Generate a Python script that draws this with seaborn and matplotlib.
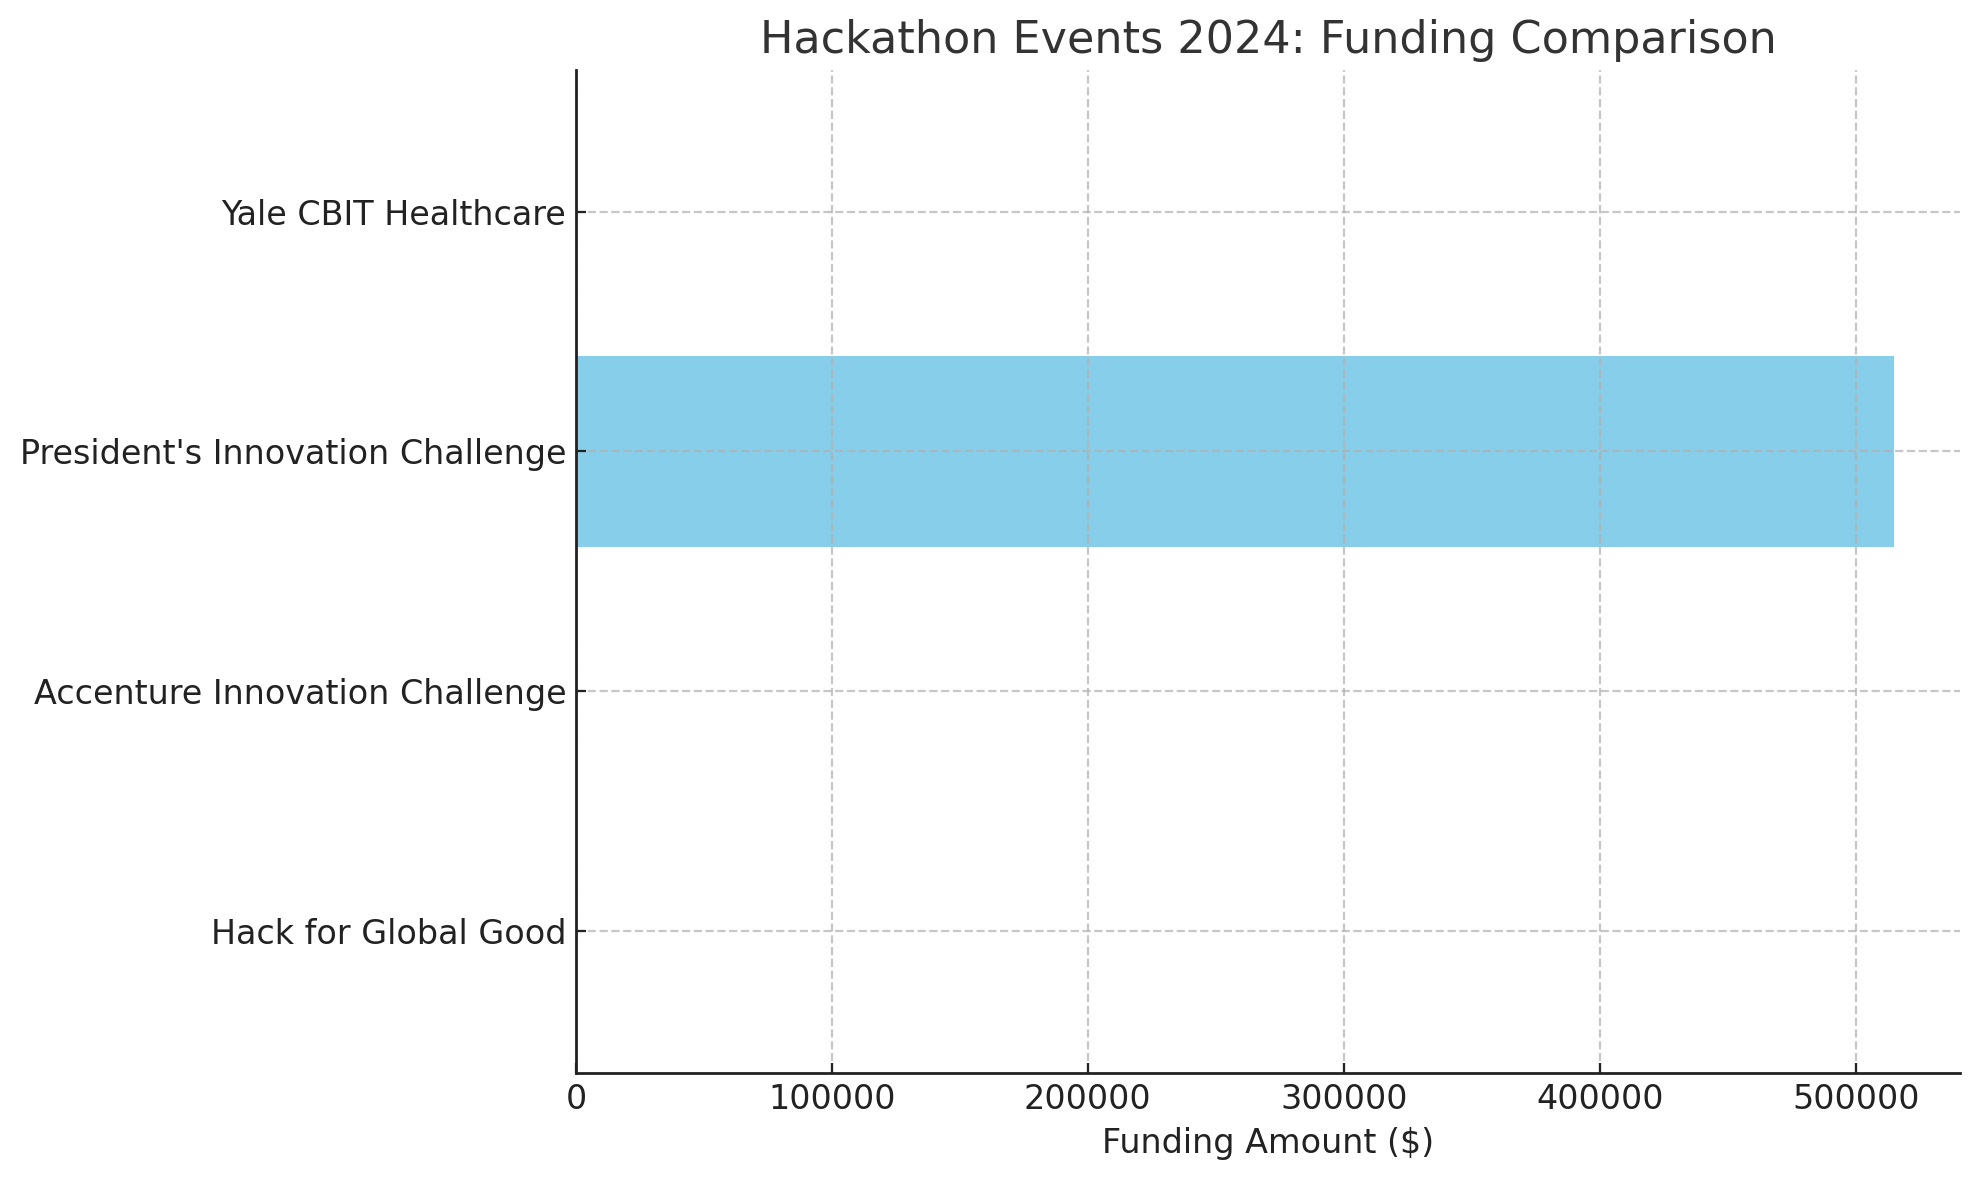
import matplotlib
matplotlib.use("Agg")
import matplotlib.pyplot as plt
import seaborn as sns
import pandas as pd

# Data (top to bottom as displayed)
events = ["Yale CBIT Healthcare", "President's Innovation Challenge",
          "Accenture Innovation Challenge", "Hack for Global Good"]
funding = [0, 515000, 0, 0]

df = pd.DataFrame({"Event": events, "Funding": funding})

plt.rcParams['font.family'] = ['DejaVu Sans']
fig = plt.figure(figsize=(9.895, 5.9), dpi=200)
ax = fig.add_axes([0.291, 0.0907, 0.9904 - 0.291, 0.9407 - 0.0907])

sns.barplot(data=df, x="Funding", y="Event", order=events, color="skyblue",
            saturation=1, orient="h", width=0.8, ax=ax)

n = len(events)
ax.set_ylim(n - 1 + 0.59, -0.59)
ax.set_xlim(0, max(funding) * 1.05)
ax.set_axisbelow('line')
ax.grid(True, which='major', axis='both', linestyle='--', color='#b0b0b0',
        alpha=0.7, linewidth=0.8)
for s in ['top', 'right']:
    ax.spines[s].set_visible(False)
for s in ['left', 'bottom']:
    ax.spines[s].set_color('#222222')
    ax.spines[s].set_linewidth(1.0)

ax.ticklabel_format(axis='x', style='plain')
ax.tick_params(axis='both', labelsize=12, colors='#222222', length=3.5,
               direction='in')
ax.set_xlabel("Funding Amount ($)", fontsize=12, color='#222222')
ax.set_ylabel("")
ax.set_title("Hackathon Events 2024: Funding Comparison", fontsize=16, color='#333333')

fig.savefig("out.png", dpi=200)
